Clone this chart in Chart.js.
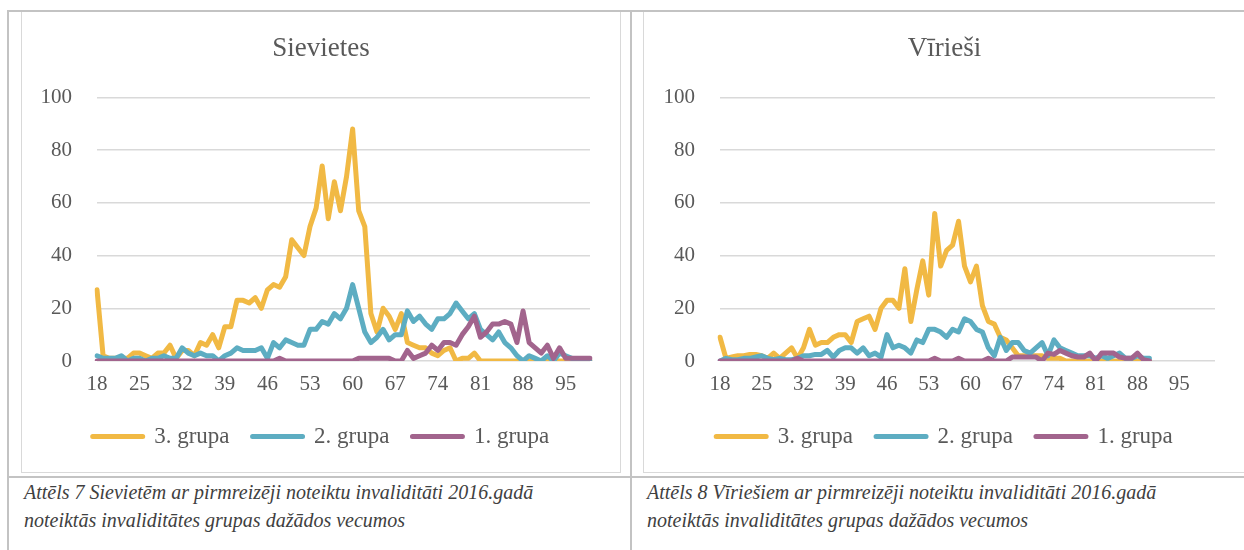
<!DOCTYPE html>
<html>
<head>
<meta charset="utf-8">
<script src="https://cdn.jsdelivr.net/npm/chart.js@4.4.1/dist/chart.umd.min.js"></script>
<style>
  body { margin: 0; background: #fff; width: 1244px; height: 550px; overflow: hidden; position: relative; }
  .ln { position: absolute; background: #c3c3c3; }
  .box { position: absolute; border: 1px solid #d9d9d9; box-sizing: border-box; }
  .wrap { position: absolute; top: 12px; height: 460px; }
  .cap { position: absolute; top: 478px; font-family: 'Liberation Serif', serif; font-style: italic;
         font-size: 20px; line-height: 28px; color: #404040; white-space: nowrap; }
</style>
</head>
<body>
<div class="box" style="left:21px;top:11px;width:600px;height:462px"></div>
<div class="box" style="left:643px;top:11px;width:640px;height:462px"></div>

<div class="ln" style="left:7px;top:10px;width:1237px;height:2px"></div>
<div class="ln" style="left:7px;top:10px;width:2px;height:540px"></div>
<div class="ln" style="left:630px;top:10px;width:2px;height:540px"></div>
<div class="ln" style="left:7px;top:476px;width:1237px;height:2px"></div>

<div class="wrap" style="left:22px;width:598px"><canvas id="chartF"></canvas></div>
<div class="wrap" style="left:645px;width:599px"><canvas id="chartM"></canvas></div>

<div class="cap" style="left:24px">Attēls 7 Sievietēm ar pirmreizēji noteiktu invaliditāti 2016.gadā<br>noteiktās invaliditātes grupas dažādos vecumos</div>
<div class="cap" style="left:647px">Attēls 8 Vīriešiem ar pirmreizēji noteiktu invaliditāti 2016.gadā<br>noteiktās invaliditātes grupas dažādos vecumos</div>

<script>
// ages on the x axis
var agesF = [];
for (var a = 18; a <= 99; a++) agesF.push(String(a));
var agesM = [];
for (var a = 18; a <= 101; a++) agesM.push(String(a));

var seriesNames = ['3. grupa', '2. grupa', '1. grupa'];
var colors = ['#F1B944', '#5DADC2', '#A2648D'];

// Sievietes, ages 18..99
var grupa3F = [27,2,1,1,1,1,3,3,2,1,
  3,3,6,1,4,4,2,7,6,10,
  5,13,13,23,23,22,24,20,27,29,
  28,32,46,43,40,51,58,74,54,68,
  57,70,88,57,51,18,11,20,17,12,
  18,7,6,5,5,3,2,4,5,0,
  1,1,3,0,0,0,0,0,0,0,
  0,0,0,0,0,0,0,0,0,0,
  0,0];
var grupa2F = [2,1,1,1,2,0,1,1,0,1,
  1,2,1,1,5,3,2,3,2,2,
  0,2,3,5,4,4,4,5,1,7,
  5,8,7,6,6,12,12,15,14,18,
  16,20,29,20,11,7,9,12,8,10,
  10,19,15,17,14,12,16,16,18,22,
  19,16,18,12,10,8,11,7,5,2,
  0,2,1,0,2,0,3,2,1,0,
  0,0];
var grupa1F = [0,0,0,0,0,0,0,0,0,0,
  0,0,0,0,0,0,0,0,0,0,
  0,0,0,0,0,0,0,0,0,0,
  1,0,0,0,0,0,0,0,0,0,
  0,0,0,1,1,1,1,1,1,0,
  0,4,1,2,3,6,4,7,7,6,
  10,13,17,9,11,14,14,15,14,7,
  19,7,5,3,6,1,5,1,1,1,
  1,1];

// Vīrieši, ages 18..90
var grupa3M = [9,1,1.5,2,2,2.5,2.5,2,1,3,
  1,3,5,1,5,12,6,7,7,9,
  10,10,7,15,16,17,12,20,23,23,
  20,35,15,27,38,25,56,36,42,44,
  53,36,30,36,21,15,14,9,8,5,
  2,2,2,2,2,1,1,1,0,0,
  0,0,0,0,0,0,0,0,0,0,
  0,0,0];
var grupa2M = [0,1,0.5,0.5,1,1,1.5,2,1,0.5,
  1,0.5,0.5,1,2,2,2.5,2.5,4,1.5,
  4,5,5,3,5,2,3,1.5,10,5,
  6,5,3,8,7,12,12,11,9,12,
  11,16,15,12,11,5,2,9,4,7,
  7,4,3,5,7,2,8,5,4,3,
  2,2,2,1,2,1,2,3,1,1,
  2,1,1];
var grupa1M = [0,0,0,0,0,0,0,0,0,0,
  0,0,0,1,0,0,0,0,0,0,
  0,0,0,0,0,0,0,0,0,0,
  0,0,0,0,0,0,1,0,0,0,
  1,0,0,0,0,1,0,0,0,1.5,
  1.5,1.5,1.5,1.5,0,3,2.5,4,3,2,
  1.5,1.5,3,0,3,3,3,1.5,1,1,
  3,0.5,0];

var FONT = "'Liberation Serif', 'Times New Roman', serif";
var TXT = '#595959';

function makeChart(id, title, labels, series, padRight) {
  var datasets = series.map(function (d, i) {
    return {
      label: seriesNames[i],
      data: d,
      borderColor: colors[i],
      backgroundColor: colors[i],
      borderWidth: 5,
      pointRadius: 0,
      tension: 0,
      fill: false,
      borderCapStyle: 'round',
      borderJoinStyle: 'round',
      order: 3 - i
    };
  });
  return new Chart(document.getElementById(id), {
    type: 'line',
    data: { labels: labels, datasets: datasets },
    options: {
      responsive: true,
      maintainAspectRatio: false,
      animation: false,
      layout: { padding: { left: 0, right: 0, top: 0, bottom: 14 } },
      plugins: {
        title: {
          display: true, text: title, color: TXT,
          font: { family: FONT, size: 27, weight: 'normal' },
          padding: { top: 21, bottom: 32 }
        },
        legend: {
          position: 'bottom',
          labels: {
            boxWidth: 50, boxHeight: 0, padding: 23, color: TXT,
            font: { family: FONT, size: 23 },
            sort: function (a, b) { return a.datasetIndex - b.datasetIndex; }
          }
        },
        tooltip: { enabled: false }
      },
      scales: {
        x: {
          offset: false,
          grid: { display: false, drawTicks: false },
          border: { display: false },
          ticks: {
            autoSkip: false, maxRotation: 0, minRotation: 0, padding: 11,
            color: TXT, font: { family: FONT, size: 21 },
            callback: function (v, i) { return i % 7 === 0 ? this.getLabelForValue(v) : ''; }
          },
          afterFit: function (s) { s.height = 41; s.paddingRight = padRight; }
        },
        y: {
          min: 0, max: 100,
          grid: { color: '#d9d9d9', lineWidth: 1.5, drawTicks: false },
          border: { display: false },
          ticks: { stepSize: 20, padding: 25, color: TXT, font: { family: FONT, size: 21 } },
          afterFit: function (s) { s.width = 75; }
        }
      }
    }
  });
}

makeChart('chartF', 'Sievietes', agesF, [grupa3F, grupa2F, grupa1F], 30);
makeChart('chartM', 'Vīrieši', agesM, [grupa3M, grupa2M, grupa1M], 29);
</script>
</body>
</html>
